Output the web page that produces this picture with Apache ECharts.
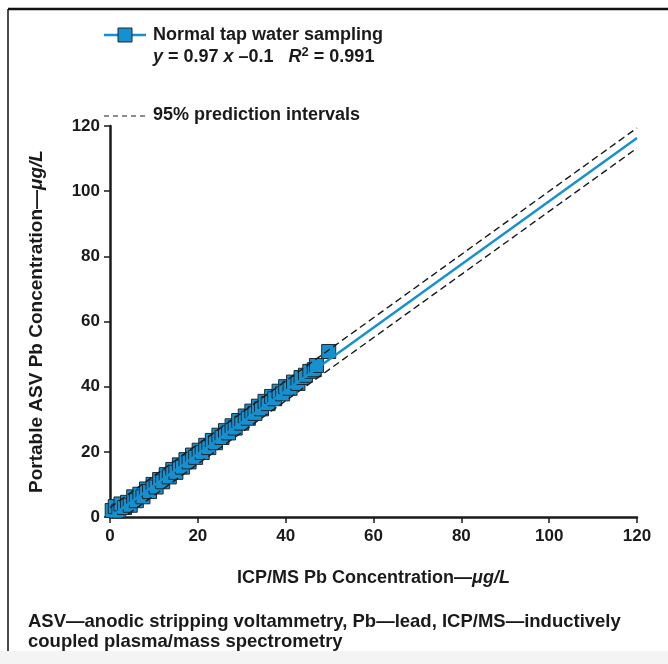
<!DOCTYPE html>
<html>
<head>
<meta charset="utf-8">
<script src="https://cdn.jsdelivr.net/npm/echarts@6/dist/echarts.min.js"></script>
<style>
  html, body { margin: 0; padding: 0; background: #fff; }
  #chart { width: 668px; height: 664px; }
</style>
</head>
<body>
<div id="chart"></div>
<script>
// ICP/MS vs portable ASV, Pb concentration (µg/L)
const sampleX = [0.5, 1.2, 2.0, 2.5, 3.3, 4.0, 4.6, 5.4, 6.0, 6.8, 7.5, 8.3, 9.0, 9.8, 10.5, 11.3,
  12.0, 12.8, 13.5, 14.3, 15.0, 15.8, 16.5, 17.3, 18.0, 18.8, 19.5, 20.3, 21.0, 21.8, 22.5, 23.3,
  24.0, 24.8, 25.5, 26.3, 27.0, 27.8, 28.5, 29.3, 30.0, 30.8, 31.5, 32.3, 33.0, 33.8, 34.5, 35.3,
  36.0, 36.8, 37.5, 38.5, 39.3, 40.0, 41.0, 41.8, 42.8, 43.5, 44.5, 45.5, 46.5, 47.0, 49.8];
const sampleY = [2.0, 3.2, 1.8, 4.0, 2.9, 4.5, 3.6, 6.2, 5.0, 7.0, 6.2, 8.6, 7.8, 10.0, 9.2, 11.5,
  10.8, 13.0, 12.3, 14.6, 13.7, 16.0, 15.3, 17.6, 16.9, 19.0, 18.3, 20.5, 19.8, 22.0, 21.3, 23.5,
  22.8, 25.1, 24.4, 26.5, 25.8, 28.0, 27.3, 29.6, 28.8, 31.0, 30.3, 32.5, 31.8, 34.0, 33.2, 35.5,
  34.8, 37.0, 36.3, 38.6, 37.8, 40.0, 39.5, 41.4, 41.0, 42.8, 43.5, 44.7, 45.2, 46.5, 50.8];

// regression y = 0.97x - 0.1 and 95% prediction band
const fitX = [0, 120];
const fitY = [-0.1, 116.3];
const bandUpper = [2.9, 119.4];
const bandLower = [-3.1, 113.2];

const BLUE = "#1790cf";
const INK = "#1a1a1a";
const SANS = "'Liberation Sans', Arial, sans-serif";

const pairs = (xs, ys) => xs.map((x, i) => [x, ys[i]]);

const nameStyle = (size) => ({
  color: INK, fontFamily: SANS, fontWeight: "bold", fontSize: size,
  rich: { i: { fontStyle: "italic", fontFamily: SANS, fontWeight: "bold", fontSize: size, color: INK } },
});

const chart = echarts.init(document.getElementById("chart"));

chart.setOption({
  animation: false,
  backgroundColor: "#fff",
  grid: { left: 110, right: 31, top: 126, bottom: 147 },
  xAxis: {
    type: "value",
    min: 0,
    max: 120,
    interval: 20,
    splitLine: { show: false },
    axisLine: { lineStyle: { color: INK, width: 2.5 } },
    axisTick: { length: 6, lineStyle: { color: INK, width: 1.5 } },
    axisLabel: { color: INK, fontFamily: SANS, fontWeight: "bold", fontSize: 17, margin: 11 },
    name: "ICP/MS Pb Concentration\u2014{i|\u03bcg/L}",
    nameLocation: "middle",
    nameGap: 52,
    nameTextStyle: nameStyle(18),
  },
  yAxis: {
    type: "value",
    min: 0,
    max: 120,
    interval: 20,
    splitLine: { show: false },
    axisLine: { lineStyle: { color: INK, width: 2.5 } },
    axisTick: { length: 6, lineStyle: { color: INK, width: 1.5 } },
    axisLabel: { color: INK, fontFamily: SANS, fontWeight: "bold", fontSize: 17, margin: 10 },
    name: "Portable ASV Pb Concentration\u2014{i|\u03bcg/L}",
    nameLocation: "middle",
    nameGap: 64,
    nameTextStyle: nameStyle(19),
  },
  series: [
    {
      type: "scatter",
      data: pairs(sampleX, sampleY),
      symbol: "rect",
      symbolSize: 14,
      itemStyle: { color: BLUE, borderColor: "#1d2a33", borderWidth: 1, opacity: 1 },
      z: 2,
    },
    {
      type: "line",
      data: pairs(fitX, fitY),
      symbol: "none",
      lineStyle: { color: BLUE, width: 2.5 },
      z: 3,
    },
    {
      type: "line",
      data: pairs(fitX, bandUpper),
      symbol: "none",
      lineStyle: { color: "#1a1a1a", width: 1.4, type: [7, 4] },
      z: 4,
    },
    {
      type: "line",
      data: pairs(fitX, bandLower),
      symbol: "none",
      lineStyle: { color: "#1a1a1a", width: 1.4, type: [7, 4] },
      z: 4,
    },
  ],
  graphic: [
    // page frame
    { type: "rect", shape: { x: 0, y: 651, width: 668, height: 13 }, style: { fill: "#f4f4f4" }, silent: true },
    { type: "line", shape: { x1: 8, y1: 9, x2: 668, y2: 9 }, style: { stroke: "#111", lineWidth: 2.5 }, silent: true },
    { type: "line", shape: { x1: 8, y1: 9, x2: 8, y2: 651 }, style: { stroke: "#111", lineWidth: 1.5 }, silent: true },
    // legend
    { type: "line", shape: { x1: 104, y1: 35, x2: 146, y2: 35 }, style: { stroke: BLUE, lineWidth: 2.5 } },
    { type: "rect", shape: { x: 118, y: 28, width: 14, height: 14 }, style: { fill: BLUE, stroke: "#1d2a33", lineWidth: 1 } },
    {
      type: "text", left: 153, top: 24,
      style: {
        text: "Normal tap water sampling\n{i|y} = 0.97 {i|x} \u20130.1   {i|R}{s|2} = 0.991",
        fill: INK, font: "bold 18px " + SANS, lineHeight: 22,
        rich: {
          i: { fontStyle: "italic", fontWeight: "bold", fontSize: 18, fontFamily: SANS, fill: INK },
          s: { fontWeight: "bold", fontSize: 13, fontFamily: SANS, fill: INK, verticalAlign: "top", padding: [0, 0, 8, 0] },
        },
      },
    },
    { type: "line", shape: { x1: 104, y1: 116, x2: 146, y2: 116 }, style: { stroke: "#1a1a1a", lineWidth: 1.2, lineDash: [5, 4] } },
    {
      type: "text", left: 153, top: 106,
      style: { text: "95% prediction intervals", fill: INK, font: "bold 18px " + SANS },
    },
    // footnote
    {
      type: "text", left: 28, top: 612,
      style: {
        text: "ASV\u2014anodic stripping voltammetry, Pb\u2014lead, ICP/MS\u2014inductively\ncoupled plasma/mass spectrometry",
        fill: INK, font: "bold 18.5px " + SANS, lineHeight: 20,
      },
    },
  ],
});
</script>
</body>
</html>
